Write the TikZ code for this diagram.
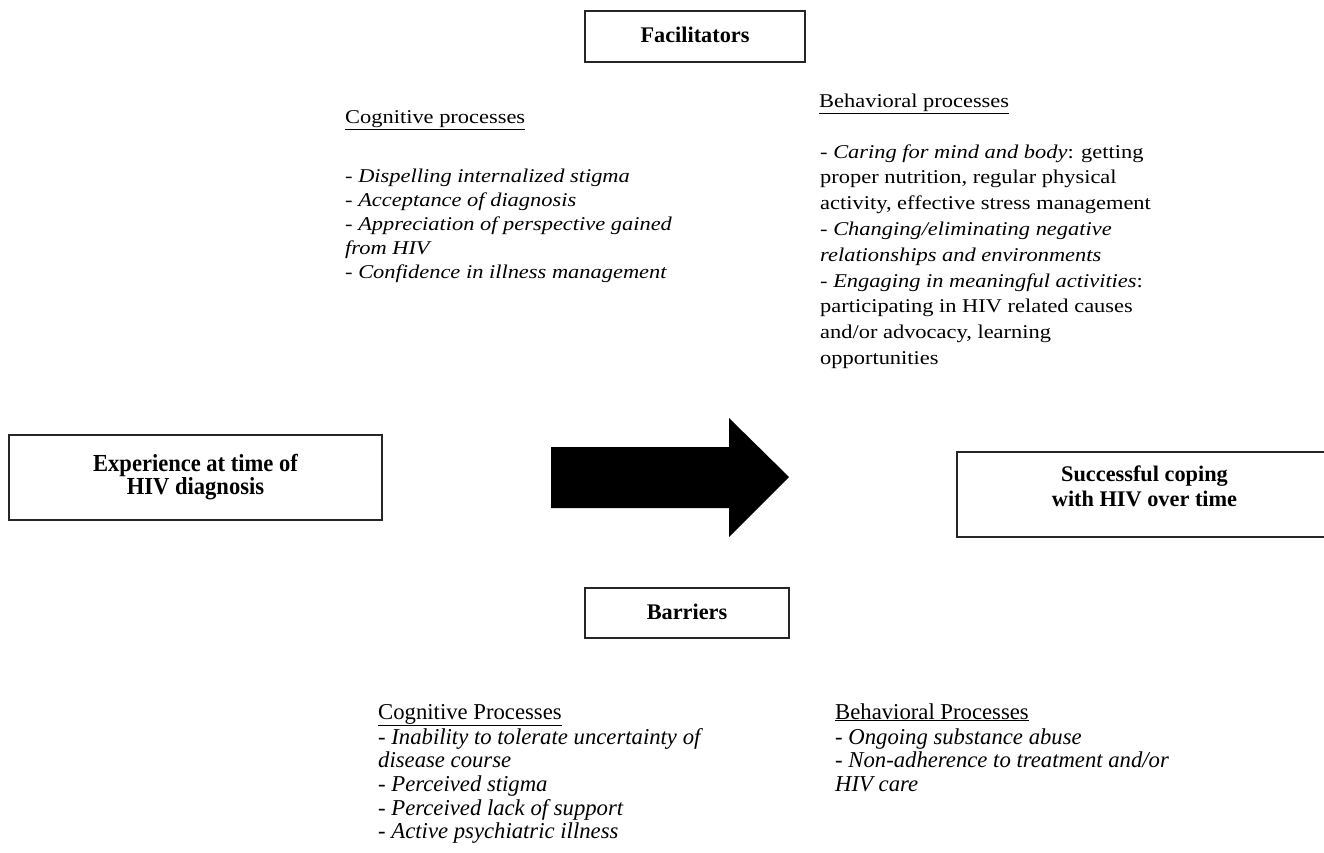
\documentclass[tikz,border=0pt]{standalone}
\usepackage{fontspec}
\setmainfont{Liberation Serif}
\newfontfamily\topfont[FakeStretch=1.15]{Liberation Serif}
\newfontfamily\botfont{Liberation Serif}
\newfontfamily\expfont[FakeStretch=0.92]{Liberation Serif}
\begin{document}
\begin{tikzpicture}[x=1pt,y=-1pt,
  boxshape/.style={draw=black!85, line width=1.3pt, inner sep=0pt},
  boldlabel/.style={font=\fontsize{22.3}{25}\selectfont\bfseries, align=center, inner sep=0pt},
  explabel/.style={font=\expfont\fontsize{24.5}{23.5}\selectfont\bfseries, align=center, inner sep=0pt},
  toptitle/.style={font=\topfont\fontsize{19.5}{24.3}\selectfont, anchor=base west, inner sep=0pt},
  topleft/.style={font=\topfont\fontsize{19.5}{24.2}\selectfont, anchor=north west, align=left, inner sep=0pt},
  topright/.style={font=\topfont\fontsize{19.5}{25.8}\selectfont, anchor=north west, align=left, inner sep=0pt},
  bottitle/.style={font=\botfont\fontsize{22.7}{23.6}\selectfont, anchor=base west, inner sep=0pt},
  botlist/.style={font=\botfont\fontsize{22.7}{23.6}\selectfont, anchor=north west, align=left, inner sep=0pt}
]
\useasboundingbox (0,0) rectangle (1324,853);
\fill[white] (0,0) rectangle (1324,853);

% boxes
\node[boxshape, minimum width=220pt, minimum height=51pt] (fac) at (695,36.5) {};
\node[boldlabel] (facl) at (695,35) {Facilitators};
\node[boxshape, minimum width=204pt, minimum height=50pt] (bar) at (687,613) {};
\node[boldlabel] (barl) at (687,612) {Barriers};
\node[boxshape, minimum width=373pt, minimum height=85pt] (exp) at (195.5,477.5) {};
\node[explabel] (expl) at (195.5,477) {Experience at time of\\HIV diagnosis};
\node[boxshape, minimum width=375pt, minimum height=85pt] (suc) at (1144.5,494.5) {};
\node[boldlabel] (sucl) at (1144.5,486) {Successful coping\\with HIV over time};

% big arrow
\fill[black] (551,447) -- (729,447) -- (729,418) -- (789,477) -- (729,537) -- (729,508) -- (551,508) -- cycle;

% facilitators text
\node[toptitle] (fcogt) at (345,124) {\underline{Cognitive processes}};
\node[topleft] (fcog) at (345,165) {\strut- \textit{Dispelling internalized stigma}\\
- \textit{Acceptance of diagnosis}\\
- \textit{Appreciation of perspective gained}\\
\textit{from HIV}\\
- \textit{Confidence in illness management}};

\node[toptitle] (fbeht) at (819,108) {\underline{Behavioral processes}};
\node[topright] (fbeh) at (820,139.9) {\strut- \textit{Caring for mind and body}: getting\\
proper nutrition, regular physical\\
activity, effective stress management\\
- \textit{Changing/eliminating negative}\\
\textit{relationships and environments}\\
- \textit{Engaging in meaningful activities}:\\
participating in HIV related causes\\
and/or advocacy, learning\\
opportunities};

% barriers text
\node[bottitle] (bcogt) at (378,719) {\underline{Cognitive Processes}};
\node[botlist] (bcog) at (378,727.5) {\strut- \textit{Inability to tolerate uncertainty of}\\
\textit{disease course}\\
- \textit{Perceived stigma}\\
- \textit{Perceived lack of support}\\
- \textit{Active psychiatric illness}};

\node[bottitle] (bbeht) at (835,719) {\underline{Behavioral Processes}};
\node[botlist] (bbeh) at (835,727.5) {\strut- \textit{Ongoing substance abuse}\\
- \textit{Non-adherence to treatment and/or}\\
\textit{HIV care}};
\end{tikzpicture}
\end{document}
